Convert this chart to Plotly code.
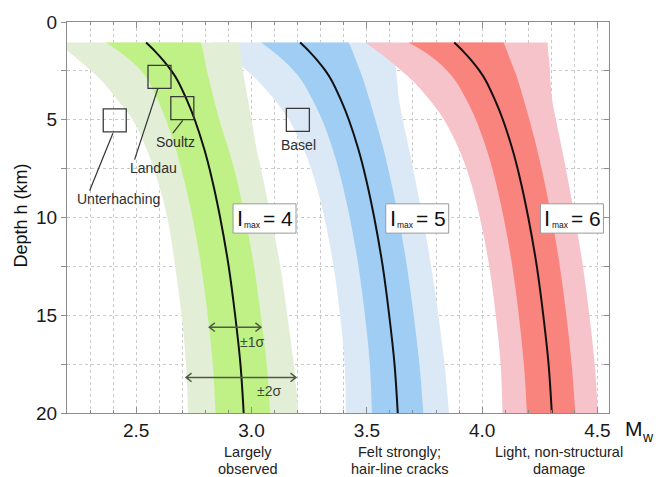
import plotly.graph_objects as go

# ---------------- data ----------------
depth_km = [1.05, 1.5, 2, 2.5, 3, 4, 5, 6.5, 8, 10, 12.5, 15, 17.5, 20]

# Imax = 4 (green)
i4_median = [2.543, 2.582, 2.620, 2.653, 2.680, 2.720, 2.754, 2.795, 2.828, 2.864, 2.901, 2.929, 2.952, 2.966]
i4_lo2 = [2.160, 2.205, 2.255, 2.305, 2.350, 2.420, 2.485, 2.545, 2.590, 2.635, 2.669, 2.697, 2.716, 2.725]
i4_lo1 = [2.368, 2.425, 2.478, 2.522, 2.553, 2.594, 2.629, 2.672, 2.706, 2.744, 2.782, 2.810, 2.832, 2.844]
i4_hi1 = [2.781, 2.790, 2.798, 2.807, 2.817, 2.838, 2.860, 2.900, 2.935, 2.972, 3.011, 3.040, 3.066, 3.081]
i4_hi2 = [2.950, 2.952, 2.956, 2.962, 2.970, 2.985, 3.000, 3.022, 3.050, 3.085, 3.125, 3.155, 3.183, 3.204]

# Imax = 5 (blue)
i5_median = [3.211, 3.250, 3.288, 3.321, 3.348, 3.388, 3.422, 3.463, 3.496, 3.532, 3.569, 3.597, 3.620, 3.634]
i5_lo2 = [2.826, 2.877, 2.930, 2.981, 3.027, 3.102, 3.162, 3.226, 3.272, 3.316, 3.356, 3.384, 3.404, 3.409]
i5_lo1 = [3.041, 3.092, 3.142, 3.184, 3.218, 3.266, 3.306, 3.352, 3.388, 3.426, 3.464, 3.492, 3.513, 3.522]
i5_hi1 = [3.421, 3.438, 3.454, 3.471, 3.486, 3.512, 3.537, 3.572, 3.602, 3.637, 3.674, 3.703, 3.728, 3.745]
i5_hi2 = [3.616, 3.618, 3.623, 3.627, 3.631, 3.640, 3.656, 3.683, 3.709, 3.742, 3.779, 3.810, 3.837, 3.856]

# Imax = 6 (red)
i6_median = [3.879, 3.918, 3.956, 3.989, 4.016, 4.056, 4.090, 4.131, 4.164, 4.200, 4.237, 4.265, 4.288, 4.302]
i6_lo2 = [3.494, 3.546, 3.600, 3.651, 3.698, 3.774, 3.835, 3.899, 3.946, 3.990, 4.031, 4.059, 4.080, 4.088]
i6_lo1 = [3.680, 3.746, 3.804, 3.849, 3.884, 3.933, 3.973, 4.019, 4.055, 4.093, 4.131, 4.159, 4.181, 4.194]
i6_hi1 = [4.093, 4.108, 4.124, 4.141, 4.156, 4.181, 4.205, 4.238, 4.267, 4.301, 4.337, 4.365, 4.388, 4.404]
i6_hi2 = [4.284, 4.286, 4.291, 4.294, 4.296, 4.304, 4.320, 4.346, 4.371, 4.402, 4.437, 4.465, 4.488, 4.502]

imax_labels = ["4", "5", "6"]
impact_lines = [["Largely", "observed"], ["Felt strongly;", "hair-line cracks"], ["Light, non-structural", "damage"]]

station_names = ["Unterhaching", "Landau", "Soultz", "Basel"]
station_mw = [2.407, 2.601, 2.700, 3.201]
station_depth = [5.03, 2.81, 4.41, 5.01]

# ---------------- styling ----------------
FONT = "Liberation Sans, Arial, Helvetica, sans-serif"
colors = {
    "4": ("#e2eed5", "#c0f187"),
    "5": ("#dbe8f5", "#9fcdf3"),
    "6": ("#f7c3ca", "#f9837d"),
}
bands = {
    "4": (i4_lo2, i4_lo1, i4_median, i4_hi1, i4_hi2),
    "5": (i5_lo2, i5_lo1, i5_median, i5_hi1, i5_hi2),
    "6": (i6_lo2, i6_lo1, i6_median, i6_hi1, i6_hi2),
}

fig = go.Figure()

def edge(x, fill=None, fillcolor=None):
    return go.Scatter(x=x, y=depth_km, mode="lines",
                      line=dict(width=0, color="rgba(0,0,0,0)", shape="spline", smoothing=1.0),
                      fill=fill, fillcolor=fillcolor, hoverinfo="skip", showlegend=False)

for key in ["5", "4", "6"]:
    lo2, lo1, med, hi1, hi2 = bands[key]
    light, strong = colors[key]
    fig.add_trace(edge(lo2))
    fig.add_trace(edge(hi2, "tonextx", light))
    fig.add_trace(edge(lo1))
    fig.add_trace(edge(hi1, "tonextx", strong))

for key in imax_labels:
    med = bands[key][2]
    fig.add_trace(go.Scatter(x=med, y=depth_km, mode="lines",
                             line=dict(color="#111111", width=2, shape="spline", smoothing=1.0),
                             hoverinfo="skip", showlegend=False))

# station boxes
fig.add_trace(go.Scatter(x=station_mw, y=station_depth, mode="markers",
                         marker=dict(symbol="square-open", size=23, color="#3a3a3a",
                                     line=dict(width=1.3, color="#3a3a3a")),
                         hoverinfo="skip", showlegend=False))

# dummy trace for right-hand ticks
fig.add_trace(go.Scatter(x=[None], y=[None], yaxis="y2", showlegend=False, hoverinfo="skip"))

shapes = []
# leader lines (positions only)
leaders = [((2.399, 5.69), (2.298, 8.63)),
           ((2.594, 3.40), (2.493, 7.04)),
           ((2.702, 5.03), (2.659, 5.69))]
for (x0, y0), (x1, y1) in leaders:
    shapes.append(dict(type="line", xref="x", yref="y", x0=x0, y0=y0, x1=x1, y1=y1,
                       line=dict(color="#333333", width=1.2)))

# double arrows for sigma
arrow_col = "#4e5c46"
def darrow(xl, xr, y):
    dx, dy = 0.024, 0.22
    p = (f"M {xl},{y} L {xr},{y} "
         f"M {xl+dx},{y-dy} L {xl},{y} L {xl+dx},{y+dy} "
         f"M {xr-dx},{y-dy} L {xr},{y} L {xr-dx},{y+dy}")
    return dict(type="path", xref="x", yref="y", path=p, line=dict(color=arrow_col, width=1.5))
shapes.append(darrow(2.817, 3.041, 15.61))
shapes.append(darrow(2.716, 3.193, 18.18))

annotations = []
# station labels
label_pos = {"Unterhaching": (2.424, 9.05), "Landau": (2.576, 7.46),
             "Soultz": (2.669, 6.13), "Basel": (3.203, 6.28)}
for name in station_names:
    x, y = label_pos[name]
    annotations.append(dict(x=x, y=y, xref="x", yref="y", text=name, showarrow=False,
                            font=dict(family=FONT, size=14, color="#2e2e2e")))

annotations.append(dict(x=3.004, y=16.38, xref="x", yref="y", text="±1σ", showarrow=False,
                        font=dict(family=FONT, size=14, color="#3c4a36")))
annotations.append(dict(x=3.074, y=18.89, xref="x", yref="y", text="±2σ", showarrow=False,
                        font=dict(family=FONT, size=14, color="#3c4a36")))

# Imax boxes (box drawn as a shape, I / max / = n as separate texts)
box_left = [2.920, 3.582, 4.253]
box_w = 0.273
for lab, bl in zip(imax_labels, box_left):
    shapes.append(dict(type="rect", xref="x", yref="y", x0=bl, x1=bl + box_w, y0=9.30, y1=10.80,
                       fillcolor="white", line=dict(color="#9a9a9a", width=1), layer="above"))
    annotations.append(dict(x=bl + 0.012, y=10.05, xref="x", yref="y", text="I",
                            xanchor="left", yanchor="middle", showarrow=False, borderpad=0,
                            font=dict(family=FONT, size=22, color="#111111")))
    annotations.append(dict(x=bl + 0.044, y=10.40, xref="x", yref="y", text="max",
                            xanchor="left", yanchor="middle", showarrow=False, borderpad=0,
                            font=dict(family=FONT, size=8.5, color="#111111")))
    annotations.append(dict(x=bl + 0.265, y=10.05, xref="x", yref="y", text=f"= {lab}",
                            xanchor="right", yanchor="middle", showarrow=False, borderpad=0,
                            font=dict(family=FONT, size=21, color="#111111")))

# impact descriptions under the axis
impact_x = [2.985, 3.643, 4.335]
for lines, ix in zip(impact_lines, impact_x):
    for line, py in zip(lines, [453, 470]):
        annotations.append(dict(x=ix, y=(413 - py) / 398, xref="x", yref="paper", text=line,
                                showarrow=False, yanchor="middle",
                                font=dict(family=FONT, size=14.5, color="#222222")))

# Mw axis label
annotations.append(dict(x=(624 - 67) / 542, y=(413 - 429) / 398, xref="paper", yref="paper",
                        text="M", showarrow=False, xanchor="left", yanchor="middle", borderpad=0,
                        font=dict(family=FONT, size=21, color="#111111")))
annotations.append(dict(x=(641 - 67) / 542, y=(413 - 437) / 398, xref="paper", yref="paper",
                        text="w", showarrow=False, xanchor="left", yanchor="middle", borderpad=0,
                        font=dict(family=FONT, size=14, color="#111111")))
# Depth axis title
annotations.append(dict(x=(21 - 67) / 542, y=(413 - 212) / 398, xref="paper", yref="paper",
                        text="Depth h (km)", textangle=-90, showarrow=False,
                        xanchor="center", yanchor="middle",
                        font=dict(family=FONT, size=18, color="#111111")))

grid_col = "#c9c9c9"
axis_col = "#8c8c8c"
fig.update_layout(
    width=664, height=477,
    margin=dict(l=67, r=55, t=15, b=64),
    paper_bgcolor="white", plot_bgcolor="white",
    showlegend=False, hovermode=False,
    font=dict(family=FONT, color="#111111"),
    shapes=shapes, annotations=annotations,
    xaxis=dict(range=[2.2, 4.55], tick0=0, dtick=0.5, tickformat=".1f",
               ticks="inside", ticklen=6, tickcolor=axis_col, tickwidth=1,
               showline=True, linecolor=axis_col, linewidth=1, mirror="ticks",
               showgrid=True, gridcolor=grid_col, griddash="dot", gridwidth=1,
               zeroline=False, tickfont=dict(size=19, family=FONT, color="#1a1a1a"),
               minor=dict(tick0=0, dtick=0.1, ticks="inside", ticklen=3, tickcolor=axis_col,
                          showgrid=True, gridcolor=grid_col, griddash="dot", gridwidth=1)),
    yaxis=dict(range=[20, 0], tick0=0, dtick=5,
               ticks="outside", ticklen=5, tickcolor=axis_col,
               showline=True, linecolor=axis_col, linewidth=1, mirror=True,
               showgrid=True, gridcolor=grid_col, griddash="dot", gridwidth=1,
               zeroline=False, tickfont=dict(size=19, family=FONT, color="#1a1a1a"),
               minor=dict(dtick=2.5, ticks="outside", ticklen=5, tickcolor=axis_col,
                          showgrid=True, gridcolor=grid_col, griddash="dot", gridwidth=1)),
    yaxis2=dict(range=[20, 0], overlaying="y", side="right", tick0=0, dtick=5,
                ticks="inside", ticklen=5, tickcolor=axis_col, showticklabels=False,
                showgrid=False, showline=False, zeroline=False,
                minor=dict(dtick=2.5, ticks="inside", ticklen=5, tickcolor=axis_col, showgrid=False)),
)

fig.write_html("out.html")
